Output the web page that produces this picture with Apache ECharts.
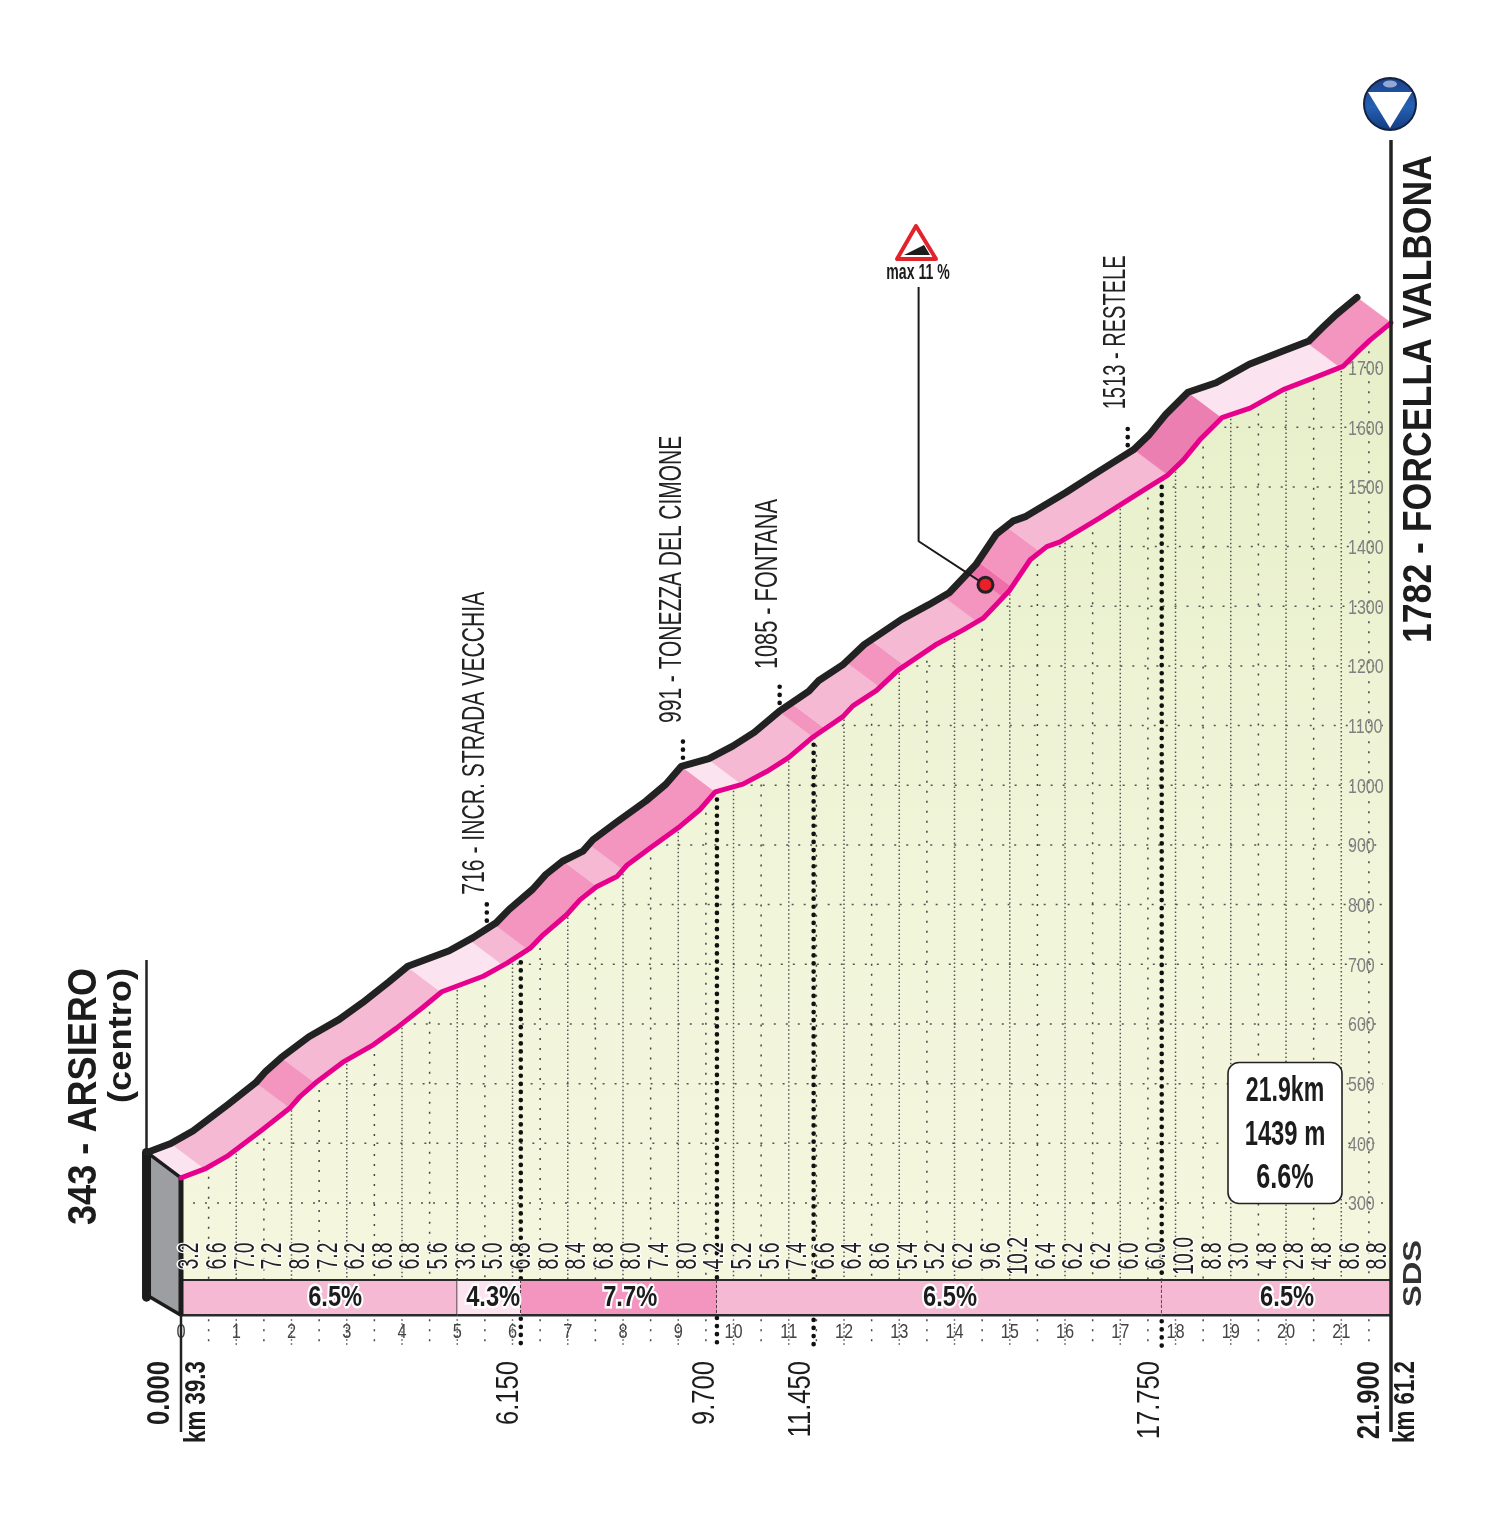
<!DOCTYPE html>
<html><head><meta charset="utf-8">
<style>html,body{margin:0;padding:0;background:#fff}#c{width:1500px;height:1531px}</style>
<script src="https://cdn.jsdelivr.net/npm/echarts@6/dist/echarts.min.js"></script>
</head><body><div id="c"></div>
<script>
// ---------- data ----------
const profileKm = [0,.43,.83,1.19,1.46,1.97,2.15,2.43,2.93,3.48,3.9,4.38,4.72,5.47,5.9,6.32,6.55,6.98,7.22,7.52,7.89,8.07,8.49,9.03,9.39,9.67,10.17,10.6,10.99,11.44,11.98,12.16,12.59,12.98,13.65,14.15,14.52,15,15.37,15.67,15.91,16.63,17.05,17.48,17.86,18.14,18.44,18.84,19.35,19.95,20.56,21.03,21.28,21.52,21.9];
const profileAlt = [342,357,378,403,422,459,478,501,536,565,593,628,654,680,702,727,749,783,808,830,847,866,895,931,959,989,1002,1023,1046,1081,1115,1133,1159,1193,1235,1260,1280,1327,1378,1400,1408,1448,1473,1498,1520,1545,1579,1616,1632,1663,1685,1702,1725,1746,1775];
const slopeLabels = ['3.2','6.6','7.0','7.2','8.0','7.2','6.2','6.8','6.8','5.6','3.6','5.0','6.8','8.0','8.4','6.8','8.0','7.4','8.0','4.2','5.2','5.6','7.4','6.6','6.4','8.6','5.4','5.2','6.2','9.6','10.2','6.4','6.2','6.2','6.0','6.0','10.0','8.8','3.0','4.8','2.8','4.8','8.6','8.8'];
const bandEnds = [.43,1.97,2.43,4.71,5.83,6.28,7.53,8.0,9.67,10.15,11.44,11.66,12.65,13.1,14.41,14.88,15.04,15.55,17.86,18.84,20.98,21.9];
const bandClass = [0,1,2,1,0,1,2,1,2,0,1,2,1,2,1,2,3,2,1,4,0,2];
const sectorEnds = [5,6.15,9.7,17.75,21.9];
const sectorClass = [1,0,2,1,1];
const sectorLabels = ['6.5%','4.3%','7.7%','6.5%','6.5%'];
const sectorLabelKm = [2.79,5.65,8.13,13.92,20.02];
const stationKm = [6.15,9.7,11.45,17.75];
const stationNames = ['716 - INCR. STRADA VECCHIA','991 - TONEZZA DEL CIMONE','1085 - FONTANA','1513 - RESTELE'];
const distanceKm = [0,6.15,9.7,11.45,17.75,21.9];
const maxSlopePoint = [14.56,1336];
const leaderKm = [13.35,13.35,14.56];
const leaderAlt = [1835,1409,1336];
const kmTicks = [0,1,2,3,4,5,6,7,8,9,10,11,12,13,14,15,16,17,18,19,20,21];
const altTicks = [300,400,500,600,700,800,900,1000,1100,1200,1300,1400,1500,1600,1700];

// ---------- style ----------
const NARROW = '"Liberation Sans",sans-serif';
const PALETTE = ['#fbe3ef','#f6b9d4','#f395bf','#ee6fa9','#ec7fb2'];
const DKM = -0.615, DM = 42.7;         // oblique depth of the road band
const BAR_TOP = 171, BAR_BOT = 112;    // altitude-axis position of the slope strip
const measure = document.createElement('canvas').getContext('2d');
function fit(text, font, len){ measure.font = font; return len / measure.measureText(text).width; }
function f(size, bold){ return (bold ? 'bold ' : '') + size + 'px ' + NARROW; }
function altAt(km){
  for (let i = 1; i < profileKm.length; i++) if (km <= profileKm[i]) {
    const t = (km - profileKm[i-1]) / (profileKm[i] - profileKm[i-1]);
    return profileAlt[i-1] + t * (profileAlt[i] - profileAlt[i-1]);
  }
  return profileAlt[profileAlt.length-1];
}
function kmAt(alt){
  if (alt <= profileAlt[0]) return 0;
  for (let i = 1; i < profileAlt.length; i++) if (alt <= profileAlt[i]) {
    const t = (alt - profileAlt[i-1]) / (profileAlt[i] - profileAlt[i-1]);
    return profileKm[i-1] + t * (profileKm[i] - profileKm[i-1]);
  }
  return null;
}
function vText(text, x, y, o){
  const font = o.font;
  return {type:'text', x, y, rotation:Math.PI/2, scaleX:o.len ? fit(text,font,o.len) : (o.scale||1),
    style:{text, font, fill:o.fill||'#1c1c1c', align:o.align||'left', verticalAlign:'middle',
      stroke:o.halo?'#fff':null, lineWidth:o.halo||0}, z2:o.z2||0};
}
const line = (x1,y1,x2,y2,stroke,w,dash,cap)=>({type:'line',shape:{x1,y1,x2,y2},
  style:{stroke,lineWidth:w,lineDash:dash||null,lineCap:cap||'butt'}});
const idx = n => Array.from({length:n},(_,i)=>[i]);

const halfKm = []; for (let k=0.5; k<21.9; k+=0.5) halfKm.push(k);

const chart = echarts.init(document.getElementById('c'),null,{renderer:'canvas'});
const mk = (z,data,renderItem)=>({type:'custom',coordinateSystem:'cartesian2d',silent:true,clip:false,z,data,renderItem,animation:false,
  encode:{x:0,y:0}});

const series = [
  // ground fill
  {type:'line',z:1,data:profileKm.map((k,i)=>[k,profileAlt[i]]),showSymbol:false,silent:true,clip:false,animation:false,
   lineStyle:{width:0},areaStyle:{origin:BAR_TOP,opacity:1,color:new echarts.graphic.LinearGradient(0,0,0,1,[{offset:0,color:'#e6efc8'},{offset:.6,color:'#f1f5da'},{offset:1,color:'#f4f6de'}])}},
  // vertical grid + ticks
  mk(2,halfKm.map(k=>[k]),(p,api)=>{
    const k=api.value(0), top=api.coord([k,altAt(k)]), bot=api.coord([k,BAR_TOP]), low=api.coord([k,BAR_BOT]);
    const whole=Math.abs(k-Math.round(k))<.01, dash=whole?[1.5,2.5]:[2,8], c=whole?'#555':'#444';
    return {type:'group',children:[line(top[0],top[1],bot[0],bot[1],c,1.5,dash),line(low[0],low[1]+4,low[0],low[1]+30,c,1.5,dash)]};
  }),
  // horizontal grid
  mk(2,altTicks.map(a=>[a]),(p,api)=>{
    const a=api.value(0), k=kmAt(a), s=api.coord([k,a]), e=api.coord([21.9,a]);
    return line(s[0],s[1],e[0]-8,e[1],'#555',1.5,[2,10]);
  }),
  // altitude tick labels
  mk(3,altTicks.map(a=>[a]),(p,api)=>{
    const a=api.value(0), c=api.coord([21.9,a]);
    return {type:'text',x:c[0]-43,y:c[1]+2,scaleX:.8,style:{text:String(a),font:f(20),fill:'#808080',align:'left',verticalAlign:'middle'}};
  }),
  // distance markers
  mk(3,idx(4),(p,api)=>{
    const k=stationKm[api.value(0)], top=api.coord([k,altAt(k)]), low=api.coord([k,BAR_BOT]);
    const s=api.coord([k+DKM,altAt(k)+DM]);
    return {type:'group',children:[
      line(top[0],top[1],top[0],low[1]+35,'#111',4.6,[0.1,8],'round'),
      line(s[0],s[1],s[0],s[1]-27,'#111',4.6,[0.1,8],'round')]};
  }),
  // road band
  mk(4,idx(bandEnds.length),(p,api)=>{
    const i=api.value(0), a=i?bandEnds[i-1]:0, b=bandEnds[i];
    const ks=[a,...profileKm.filter(k=>k>a&&k<b),b];
    const lo=ks.map(k=>api.coord([k,altAt(k)]));
    const hi=ks.map(k=>api.coord([k+DKM,altAt(k)+DM])).reverse();
    return {type:'polygon',shape:{points:lo.concat(hi)},style:{fill:PALETTE[bandClass[i]],stroke:PALETTE[bandClass[i]],lineWidth:.5}};
  }),
  // slope strip
  mk(5,idx(sectorEnds.length),(p,api)=>{
    const i=api.value(0), a=i?sectorEnds[i-1]:0, b=sectorEnds[i];
    const p1=api.coord([a,BAR_TOP]), p2=api.coord([b,BAR_BOT]);
    const kids=[{type:'rect',shape:{x:p1[0],y:p1[1],width:p2[0]-p1[0],height:p2[1]-p1[1]},style:{fill:PALETTE[sectorClass[i]]}}];
    if(i<sectorEnds.length-1) kids.push(line(p2[0],p1[1],p2[0],p2[1],'#222',1.5,i===0?null:[3,2]));
    kids.push(line(p1[0],p1[1],p2[0],p1[1],'#2a2a2a',2), line(p1[0],p2[1],p2[0],p2[1],'#2a2a2a',2.5));
    return {type:'group',children:kids};
  }),
  // start wall
  mk(5,[[0]],(p,api)=>{
    const a=api.coord([0,profileAlt[0]]), b=api.coord([DKM,profileAlt[0]+DM]), d=api.coord([0,BAR_BOT]), c=[b[0],d[1]-20];
    return {type:'group',children:[
      {type:'polygon',shape:{points:[a,b,c,d]},style:{fill:'#9d9ea2',stroke:'#1c1c1c',lineWidth:3.5,lineJoin:'round'}},
      line(b[0]-.5,b[1],b[0]-.5,c[1]+2,'#1c1c1c',9,null,'round'),
      line(a[0],a[1],d[0],d[1],'#1c1c1c',5)]};
  }),
  mk(6,[[0]],(p,api)=>({type:'polyline',shape:{points:profileKm.map((k,i)=>api.coord([k,profileAlt[i]]))},
    style:{fill:null,stroke:'#e6008c',lineWidth:5,lineJoin:'round',lineCap:'round'}})),
  mk(6,[[0]],(p,api)=>({type:'polyline',shape:{points:profileKm.map((k,i)=>api.coord([k+DKM,profileAlt[i]+DM]))},
    style:{fill:null,stroke:'#222',lineWidth:7,lineJoin:'round',lineCap:'round'}})),
  // max-slope leader
  {type:'line',z:7,data:leaderKm.map((k,i)=>[k,leaderAlt[i]]),showSymbol:false,silent:true,clip:false,animation:false,
   lineStyle:{color:'#1a1a1a',width:2}},
  {type:'scatter',z:8,data:[maxSlopePoint],symbolSize:15,silent:true,clip:false,animation:false,
   itemStyle:{color:'#ea1f2a',borderColor:'#222',borderWidth:3,opacity:1}},
  // km tick labels
  mk(9,kmTicks.map(k=>[k]),(p,api)=>{
    const k=api.value(0), c=api.coord([k,BAR_BOT]);
    return {type:'text',x:c[0],y:c[1]+17,scaleX:.78,style:{text:String(k),font:f(21),fill:'#444',align:'center',verticalAlign:'middle'}};
  }),
  // slope labels every half km
  mk(9,idx(slopeLabels.length),(p,api)=>{
    const i=api.value(0), t=slopeLabels[i], c=api.coord([i*0.5+0.165,BAR_TOP]);
    return vText(t,c[0],c[1]-24,{font:f(30),len:t.length>3?38:27,fill:'#222',halo:3,align:'center'});
  }),
  // sector labels
  mk(9,idx(sectorLabels.length),(p,api)=>{
    const i=api.value(0), c=api.coord([sectorLabelKm[i],(BAR_TOP+BAR_BOT)/2]);
    return {type:'text',x:c[0],y:c[1],scaleX:.79,style:{text:sectorLabels[i],font:f(30,true),fill:'#1c1c1c',align:'center',verticalAlign:'middle',stroke:'#fff',lineWidth:5}};
  }),
  // station labels
  mk(9,idx(stationNames.length),(p,api)=>{
    const i=api.value(0), k=stationKm[i], s=api.coord([k+DKM,altAt(k)+DM]);
    const gap=[34,43,42,44][i], len=[303,287,170,154][i];
    return vText(stationNames[i],s[0]-11,s[1]-gap,{font:f(31),len,fill:'#222'});
  }),
  // distance labels
  mk(9,idx(distanceKm.length),(p,api)=>{
    const i=api.value(0), k=distanceKm[i], edge=(i===0||i===distanceKm.length-1), c=api.coord([k,BAR_BOT]);
    const t=k.toFixed(3);
    return vText(t,c[0]-(edge?21:12),1361,{font:f(32,edge),scale:.8,align:'right',fill:'#1c1c1c'});
  })
];

function gText(text,x,y,size,len,bold,extra){
  const font=f(size,bold);
  return Object.assign({type:'text',z:100,x,y,rotation:Math.PI/2,scaleX:fit(text,font,len),
    style:{text,font,fill:'#1c1c1c',align:'left',verticalAlign:'middle'}},extra||{});
}
function hText(text,x,y,size,bold,scale){
  return {type:'text',z:100,x,y,scaleX:scale||1,style:{text,font:f(size,bold),fill:'#1c1c1c',align:'center',verticalAlign:'middle'}};
}
const gl=(x1,y1,x2,y2,w)=>({type:'line',z:50,shape:{x1,y1,x2,y2},style:{stroke:'#222',lineWidth:w}});

const graphic = [
  gl(146.5,960,146.5,1152,2.5), gl(181,1315,181,1432,2.5), gl(1391,140,1391,1432,3.5),
  gText('343 - ARSIERO',85,1225,41,257,true),
  gText('(centro)',122,1103,34,135,true),
  gText('1782 - FORCELLA VALBONA',1420,643,41,488,true),
  gText('km 39.3',197,1443,30,82,true),
  gText('km 61.2',1406,1443,30,82,true),
  gText('SDS',1414,1307,26,67,true,{style:{text:'SDS',font:f(26,true),fill:'#333',align:'left',verticalAlign:'middle'}}),
  // info box
  {type:'rect',z:90,shape:{x:1228,y:1062.5,width:114,height:141,r:11},style:{fill:'#fff',stroke:'#222',lineWidth:1.6}},
  hText('21.9km',1285,1091,35,true,.66),
  hText('1439 m',1285,1135,35,true,.68),
  hText('6.6%',1285,1178,35,true,.72),
  // finish badge
  {type:'circle',z:90,shape:{cx:1390,cy:104,r:26},style:{stroke:'#14213f',lineWidth:2,
    fill:new echarts.graphic.LinearGradient(0,0,0,1,[{offset:0,color:'#1a3f86'},{offset:.55,color:'#2560b4'},{offset:1,color:'#123a7d'}])}},
  {type:'ellipse',z:91,shape:{cx:1390,cy:84,rx:7,ry:3.5},style:{fill:'#8fa8d4'}},
  {type:'polygon',z:91,shape:{points:[[1368,92],[1412,92],[1390,128]]},style:{fill:'#fff'}},
  // max-slope sign
  {type:'polygon',z:90,shape:{points:[[916,226],[897,259],[936,259]]},style:{fill:'#fff',stroke:'#e3232b',lineWidth:4,lineJoin:'round'}},
  {type:'polygon',z:91,shape:{points:[[904,255],[924,245],[930,255]]},style:{fill:'#1c1c1c'}},
  hText('max 11 %',918,273,22,true,.64)
];

chart.setOption({
  animation:false,
  grid:{left:181,top:188.6,width:1210,height:1133.7,show:false},
  xAxis:{type:'value',min:0,max:21.9,interval:1,axisLine:{show:false},axisTick:{show:false},splitLine:{show:false},axisLabel:{show:false}},
  yAxis:{type:'value',min:100,max:2000,interval:100,position:'right',axisLine:{show:false},axisTick:{show:false},splitLine:{show:false},axisLabel:{show:false}},
  series, graphic
});
</script></body></html>
